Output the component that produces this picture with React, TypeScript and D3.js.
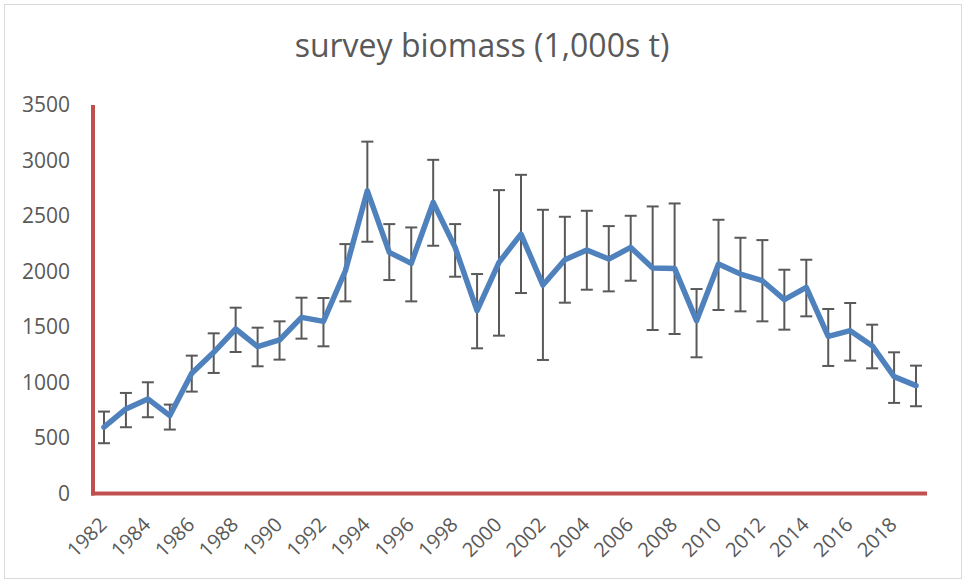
import React from "react";
import * as d3 from "d3";

const years: number[] = d3.range(1982, 2020);
const biomass: number[] = [597, 762, 852, 702, 1083, 1272, 1482, 1323, 1383, 1587, 1551, 2007, 2727, 2172, 2073, 2622, 2217, 1647, 2082, 2337, 1878, 2106, 2193, 2112, 2217, 2031, 2028, 1557, 2067, 1977, 1917, 1746, 1857, 1416, 1467, 1332, 1053, 972];
const upper: number[] = [738, 906, 1002, 801, 1242, 1443, 1674, 1494, 1551, 1764, 1761, 2247, 3170, 2427, 2397, 3006, 2427, 1977, 2733, 2871, 2556, 2493, 2547, 2409, 2502, 2586, 2613, 1842, 2466, 2304, 2283, 2016, 2106, 1662, 1716, 1521, 1272, 1152];
const lower: number[] = [453, 597, 687, 576, 918, 1086, 1275, 1146, 1206, 1395, 1326, 1731, 2268, 1923, 1731, 2232, 1953, 1308, 1422, 1806, 1203, 1719, 1836, 1821, 1917, 1473, 1437, 1227, 1653, 1641, 1551, 1476, 1596, 1149, 1197, 1128, 816, 786];
const yTicks: number[] = [0, 500, 1000, 1500, 2000, 2500, 3000, 3500];
const xTickYears: number[] = years.filter((y) => y % 2 === 0);
const title = "survey biomass (1,000s t)";

export default function App() {
  const W = 965, H = 581;
  const left = 93, right = 927, top = 105, bottom = 493.5;
  const x = d3.scalePoint<number>().domain(years).range([left, right]).padding(0.5);
  const y = d3.scaleLinear().domain([0, 3500]).range([bottom, top]);
  const line = d3.line<number>().x((_, i) => x(years[i]) as number).y((d) => y(d));
  const font = "'Open Sans', 'Noto Sans', sans-serif";
  const grey = "#595959";
  return (
    <svg width={W} height={H} style={{ position: "absolute", left: 0, top: 0, background: "#fff" }} fontFamily={font}>
      <rect x={4.5} y={4.5} width={957} height={574} fill="#fff" stroke="#d9d9d9" strokeWidth={1} />
      <text x={482} y={57} textAnchor="middle" fontSize={32} fill={grey}>{title}</text>
      {yTicks.map((t) => (
        <text key={t} x={70} y={y(t)} dy="0.35em" textAnchor="end" fontSize={21} fill={grey}>{t}</text>
      ))}
      {xTickYears.map((yr) => {
        const ax = (x(yr) as number) + 4;
        const ay = 526;
        return (
          <text key={yr} x={ax} y={ay} textAnchor="end" fontSize={20} fill={grey} transform={`rotate(-45 ${ax} ${ay})`}>{yr}</text>
        );
      })}
      <line x1={left} x2={left} y1={top} y2={bottom + 2} stroke="#c0504d" strokeWidth={4} />
      <line x1={left - 2} x2={right} y1={bottom} y2={bottom} stroke="#c0504d" strokeWidth={4} />
      <g stroke={grey} strokeWidth={2}>
        {years.map((yr, i) => {
          const cx = x(yr) as number;
          return (
            <g key={yr}>
              <line x1={cx} x2={cx} y1={y(upper[i])} y2={y(lower[i])} />
              <line x1={cx - 6} x2={cx + 6} y1={y(upper[i])} y2={y(upper[i])} />
              <line x1={cx - 6} x2={cx + 6} y1={y(lower[i])} y2={y(lower[i])} />
            </g>
          );
        })}
      </g>
      <path d={line(biomass) || ""} fill="none" stroke="#4f81bd" strokeWidth={5.5} strokeLinejoin="round" strokeLinecap="round" />
    </svg>
  );
}
